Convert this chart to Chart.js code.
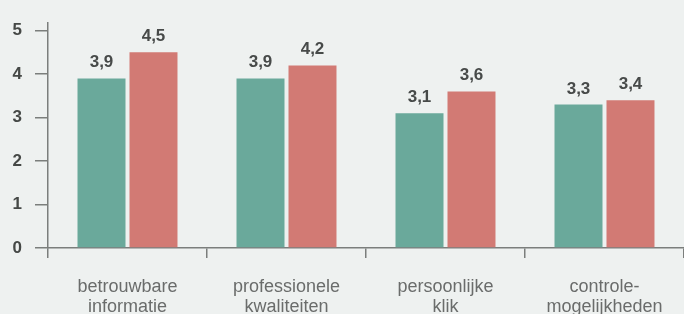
<!DOCTYPE html>
<html>
<head>
<meta charset="utf-8">
<script src="https://cdn.jsdelivr.net/npm/chart.js@4/dist/chart.umd.min.js"></script>
<style>
  html, body { margin: 0; padding: 0; background: #eef1f0; }
  #wrap { width: 684px; height: 314px; position: relative; }
</style>
</head>
<body>
<div id="wrap"><canvas id="c"></canvas></div>
<script>
const categories = [
  ["betrouwbare", "informatie"],
  ["professionele", "kwaliteiten"],
  ["persoonlijke", "klik"],
  ["controle-", "mogelijkheden"]
];
const seriesA = [3.9, 3.9, 3.1, 3.3];
const seriesB = [4.5, 4.2, 3.6, 3.4];
const yTicks = [0, 1, 2, 3, 4, 5];

const axisColor = '#7b7e7c';

const valueLabels = {
  id: 'valueLabels',
  afterDatasetsDraw(chart) {
    const ctx = chart.ctx;
    ctx.save();
    ctx.font = 'bold 17px "Liberation Sans", Arial, sans-serif';
    ctx.fillStyle = '#474a49';
    ctx.textAlign = 'center';
    ctx.textBaseline = 'alphabetic';
    chart.data.datasets.forEach((ds, di) => {
      chart.getDatasetMeta(di).data.forEach((bar, i) => {
        ctx.fillText(String(ds.data[i]).replace('.', ','), bar.x, bar.y - 11);
      });
    });
    ctx.restore();
  }
};

new Chart(document.getElementById('c'), {
  type: 'bar',
  data: {
    labels: categories,
    datasets: [
      { data: seriesA, backgroundColor: '#6aa99b', categoryPercentage: 0.654, barPercentage: 0.923 },
      { data: seriesB, backgroundColor: '#d27a74', categoryPercentage: 0.654, barPercentage: 0.923 }
    ]
  },
  options: {
    responsive: true,
    maintainAspectRatio: false,
    animation: false,
    layout: { padding: { left: 0, right: 0, top: 13, bottom: 0 } },
    plugins: { legend: { display: false }, tooltip: { enabled: false } },
    scales: {
      x: {
        afterFit: (scale) => { scale.height = 66; },
        grid: { drawOnChartArea: false, drawTicks: true, tickLength: 10, color: axisColor, lineWidth: 1.5, offset: true },
        border: { display: true, color: axisColor, width: 1.5 },
        ticks: {
          color: '#6a6c6b',
          font: { family: '"Liberation Sans", Arial, sans-serif', size: 18, lineHeight: 1.1 },
          padding: 19,
          maxRotation: 0,
          autoSkip: false
        }
      },
      y: {
        min: 0,
        max: 5.17,
        afterFit: (scale) => { scale.width = 48; },
        afterBuildTicks: (scale) => { scale.ticks = yTicks.map(v => ({ value: v })); },
        grid: { drawOnChartArea: false, drawTicks: true, tickLength: 13, color: axisColor, lineWidth: 1.5 },
        border: { display: true, color: axisColor, width: 1.5 },
        ticks: {
          color: '#454846',
          font: { family: '"Liberation Sans", Arial, sans-serif', size: 17, weight: 'bold' },
          padding: 13
        }
      }
    }
  },
  plugins: [valueLabels]
});
</script>
</body>
</html>
